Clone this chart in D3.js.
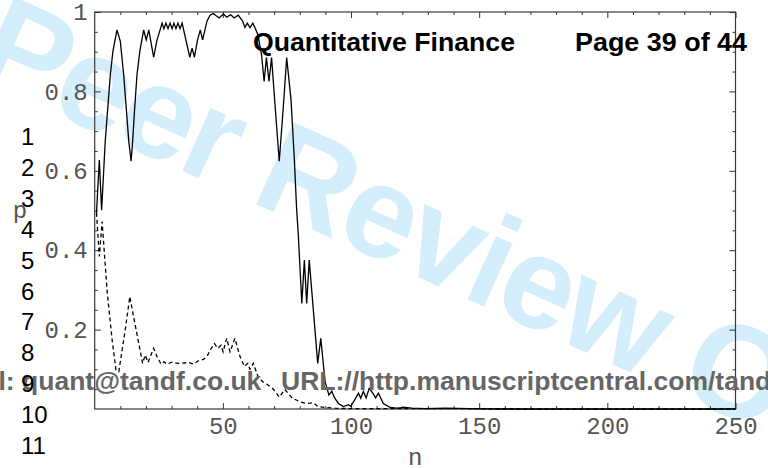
<!DOCTYPE html>
<html><head><meta charset="utf-8">
<script src="https://cdn.jsdelivr.net/npm/d3@7"></script>
<style>html,body{margin:0;padding:0;background:#fff;overflow:hidden}</style>
</head><body>
<svg id="c" width="768" height="468"></svg>
<script>
// ---- data ----
const solidN = [0.7,1.8,2.7,3.5,4.1,5.1,6.1,7.1,8.7,10.0,11.3,12.3,13.3,14.2,14.8,15.6,16.5,17.6,19.1,20.1,21.1,23.0,24.3,26.3,27.0,27.8,28.6,29.4,30.2,30.9,31.7,32.5,33.3,34.1,35.6,37.1,38.0,38.9,40.1,41.2,42.1,43.8,45.0,46.3,47.5,48.6,50.2,51.5,53.1,54.4,56.0,57.7,58.6,59.5,60.6,61.7,62.7,63.7,65.1,66.1,67.0,68.0,69.0,70.5,72.0,73.5,74.9,76.6,77.9,78.8,79.4,80.8,81.8,82.7,83.7,85.3,87.0,88.2,89.9,91.4,92.5,93.6,95.1,97.0,99.0,99.9,101.6,102.9,103.8,104.8,105.9,107.1,108.5,109.6,110.7,112.6,115.2,117.8,121.1,123.8,128.9,136.7,146.5,158,250];
const solidP = [0.494,0.627,0.501,0.599,0.674,0.758,0.842,0.901,0.955,0.926,0.842,0.758,0.674,0.624,0.674,0.758,0.842,0.901,0.955,0.930,0.955,0.886,0.929,0.972,0.958,0.972,0.958,0.972,0.958,0.972,0.958,0.972,0.958,0.972,0.929,0.886,0.909,0.886,0.929,0.955,0.930,0.977,0.992,0.996,0.990,0.985,0.995,0.987,0.993,0.985,0.992,0.977,0.961,0.972,0.961,0.972,0.958,0.942,0.892,0.825,0.885,0.825,0.885,0.753,0.624,0.753,0.885,0.778,0.627,0.501,0.443,0.266,0.375,0.266,0.375,0.249,0.115,0.178,0.068,0.035,0.045,0.028,0.014,0.006,0.011,0.007,0.025,0.040,0.027,0.044,0.028,0.052,0.040,0.028,0.040,0.014,0.004,0.002,0.004,0.002,0.001,0.002,0.001,0.0,0.0];
const dashedN = [0.7,1.8,2.9,4.8,6.8,8.3,9.4,11.9,13.7,15.2,17.2,18.7,19.7,20.8,23.0,24.3,25.9,27.0,28.2,30.2,32.5,36.7,38.6,40.6,42.4,43.8,45.1,46.7,48.0,49.3,50.1,51.5,52.8,54.7,56.7,58.4,59.7,60.6,61.9,63.8,65.7,67.1,69.7,72.0,74.2,77.0,80.1,82.7,85.3,87.2,89.9,93.8,99.6,250];
const dashedP = [0.494,0.384,0.472,0.300,0.174,0.098,0.094,0.199,0.283,0.232,0.165,0.115,0.136,0.117,0.153,0.132,0.113,0.119,0.113,0.118,0.115,0.117,0.113,0.122,0.125,0.132,0.149,0.165,0.153,0.161,0.144,0.178,0.144,0.178,0.132,0.107,0.115,0.100,0.115,0.080,0.068,0.063,0.050,0.030,0.049,0.028,0.018,0.014,0.016,0.006,0.004,0.002,0.001,0.0];
const xTicks = [50,100,150,200,250];
const yTicks = [0.2,0.4,0.6,0.8,1];
const xMinor = d3.range(10,250,10).filter(v => v % 50 !== 0);
const yMinor = d3.range(0.05,1,0.05).filter(v => Math.abs(v*5 - Math.round(v*5)) > 1e-6);
const xLabel = "n";
const yLabel = "p";
const lineNumbers = ["1","2","3","4","5","6","7","8","9","10","11"];
const headerLeft = "Quantitative Finance";
const headerRight = "Page 39 of 44";
const footerLeft = "l: quant@tandf.co.uk";
const footerRight = "URL://http.manuscriptcentral.com/tandf/rquf";
const watermark = "For Peer Review Only";

// ---- drawing ----
const svg = d3.select("#c");
const x = d3.scaleLinear().domain([0,250]).range([94.7,735.5]);
const y = d3.scaleLinear().domain([0,1]).range([409,12]);

// watermark
svg.append("text")
  .attr("transform","translate(-245,-21) rotate(24.2)")
  .attr("font-family","'Liberation Sans',Arial,sans-serif")
  .attr("font-weight","bold").attr("font-size",131)
  .attr("letter-spacing",-3)
  .attr("fill","#d5eefb")
  .text(watermark);

const tickColor = "#333";
function styleAxis(g){
  g.select(".domain").remove();
  g.selectAll(".tick line").attr("stroke",tickColor).attr("stroke-width",1);
  g.selectAll(".tick text").attr("font-family","'Liberation Mono','Courier New',monospace")
    .attr("font-size",24).attr("fill","#555");
}
const fmtY = d => d === 1 ? "1" : d3.format(".1f")(d);

svg.append("g").attr("transform",`translate(0,${y(0)})`)
  .call(d3.axisBottom(x).tickValues(xTicks).tickSize(-6).tickPadding(8)).call(styleAxis);
svg.append("g").attr("transform",`translate(0,${y(0)})`)
  .call(d3.axisBottom(x).tickValues(xMinor).tickSize(-3).tickFormat("")).call(styleAxis);
svg.append("g").attr("transform",`translate(0,${y(1)})`)
  .call(d3.axisTop(x).tickValues(xTicks).tickSize(-6).tickFormat("")).call(styleAxis);
svg.append("g").attr("transform",`translate(0,${y(1)})`)
  .call(d3.axisTop(x).tickValues(xMinor).tickSize(-3).tickFormat("")).call(styleAxis);
svg.append("g").attr("transform",`translate(${x(0)},0)`)
  .call(d3.axisLeft(y).tickValues(yTicks).tickSize(-6).tickPadding(7).tickFormat(fmtY)).call(styleAxis);
svg.append("g").attr("transform",`translate(${x(0)},0)`)
  .call(d3.axisLeft(y).tickValues(yMinor).tickSize(-3).tickFormat("")).call(styleAxis);
svg.append("g").attr("transform",`translate(${x(250)},0)`)
  .call(d3.axisRight(y).tickValues(yTicks).tickSize(-6).tickFormat("")).call(styleAxis);
svg.append("g").attr("transform",`translate(${x(250)},0)`)
  .call(d3.axisRight(y).tickValues(yMinor).tickSize(-3).tickFormat("")).call(styleAxis);

// frame
svg.append("rect").attr("x",x(0)).attr("y",y(1))
  .attr("width",x(250)-x(0)).attr("height",y(0)-y(1))
  .attr("fill","none").attr("stroke","#3a3a3a").attr("stroke-width",1.2);

// curves
const line = d3.line().x(d => x(d[0])).y(d => y(d[1]));
svg.append("path").datum(d3.zip(dashedN, dashedP)).attr("d",line)
  .attr("fill","none").attr("stroke","#000").attr("stroke-width",1.3)
  .attr("stroke-dasharray","4,3");
svg.append("path").datum(d3.zip(solidN, solidP)).attr("d",line)
  .attr("fill","none").attr("stroke","#000").attr("stroke-width",1.3)
  .attr("stroke-linejoin","miter");

// axis labels
const mono = "'Liberation Mono','Courier New',monospace";
svg.append("text").attr("x",(x(0)+x(250))/2).attr("y",465).attr("text-anchor","middle")
  .attr("font-family",mono).attr("font-size",24).attr("fill","#555").text(xLabel);
svg.append("text").attr("x",20).attr("y",218).attr("text-anchor","middle")
  .attr("font-family",mono).attr("font-size",24).attr("fill","#555").text(yLabel);

// header
const sans = "'Liberation Sans',Arial,Helvetica,sans-serif";
svg.append("text").attr("x",253).attr("y",50.5)
  .attr("font-family",sans).attr("font-weight","bold").attr("font-size",26)
  .attr("textLength",262).attr("lengthAdjust","spacingAndGlyphs")
  .attr("fill","#000").text(headerLeft);
svg.append("text").attr("x",575).attr("y",50.5)
  .attr("font-family",sans).attr("font-weight","bold").attr("font-size",26)
  .attr("textLength",172).attr("lengthAdjust","spacingAndGlyphs")
  .attr("fill","#000").text(headerRight);

// footer
svg.append("text").attr("x",-1.5).attr("y",389.5)
  .attr("font-family",sans).attr("font-weight","bold").attr("font-size",26.5)
  .attr("fill","#666").text(footerLeft);
svg.append("text").attr("x",281).attr("y",389.5)
  .attr("font-family",sans).attr("font-weight","bold").attr("font-size",26.5)
  .attr("fill","#666").text(footerRight);

// line numbers
svg.append("g").selectAll("text").data(lineNumbers).join("text")
  .attr("x",21).attr("y",(d,i) => 145 + i*30.9)
  .attr("font-family",sans).attr("font-size",24).attr("fill","#000")
  .text(d => d);
</script>
</body></html>
